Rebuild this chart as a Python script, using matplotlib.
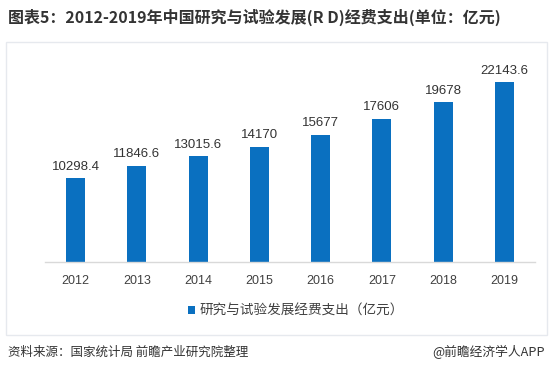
import matplotlib
matplotlib.use("Agg")
import matplotlib.pyplot as plt
from matplotlib.patches import Rectangle

years = ["2012", "2013", "2014", "2015", "2016", "2017", "2018", "2019"]
values = [10298.4, 11846.6, 13015.6, 14170, 15677, 17606, 19678, 22143.6]
value_labels = ["10298.4", "11846.6", "13015.6", "14170", "15677", "17606", "19678", "22143.6"]
series_name = "研究与试验发展经费支出（亿元）"
title = "图表5：2012-2019年中国研究与试验发展(R D)经费支出(单位：亿元)"
source = "资料来源：国家统计局 前瞻产业研究院整理"
credit = "@前瞻经济学人APP"

cjk = ["Noto Sans CJK SC", "DejaVu Sans"]
num = ["Liberation Sans", "Noto Sans CJK SC"]
bar_color = "#0A70C0"

fig = plt.figure(figsize=(5.53, 3.75), dpi=100)
fig.patch.set_facecolor("white")

# panel frame
fig.patches.append(Rectangle((6/553, 1 - 335/375), 541/553, 293/375, transform=fig.transFigure,
                             facecolor="none", edgecolor="#E6E9EE", linewidth=1.0))

ax = fig.add_axes([45/553, 113/375, 490/553, 203/375])
x = list(range(len(years)))
ax.bar(x, values, width=0.31, color=bar_color, label=series_name)
for xi, v, lab in zip(x, values, value_labels):
    ax.text(xi, v + 700, lab, ha="center", va="bottom", fontsize=9.5, color="#333333", family=num)

ax.set_xlim(-0.5, len(years) - 0.5)
ax.set_ylim(0, 25000)
ax.set_xticks(x)
ax.set_xticklabels(years, fontsize=9, color="#404040", family=num)
ax.tick_params(axis="x", length=0, pad=9)
ax.set_yticks([])
for s in ["top", "right", "left"]:
    ax.spines[s].set_visible(False)
ax.spines["bottom"].set_color("#D9D9D9")
ax.spines["bottom"].set_linewidth(1.0)

leg = fig.legend(loc="center", bbox_to_anchor=(0.535, 1 - 311/375), frameon=False,
                 prop={"family": cjk, "size": 9.8}, handlelength=0.55, handleheight=0.55,
                 handletextpad=0.3)
for t in leg.get_texts():
    t.set_color("#404040")

fig.text(8/553, 1 - 17/375, title, ha="left", va="center", fontsize=11.5,
         fontweight="bold", color="#333333", family=cjk)
fig.text(8/553, 1 - 352/375, source, ha="left", va="center", fontsize=9,
         color="#333333", family=cjk)
fig.text(545/553, 1 - 352/375, credit, ha="right", va="center", fontsize=9.2,
         color="#333333", family=cjk)

fig.savefig("out.png", dpi=100, facecolor="white")
